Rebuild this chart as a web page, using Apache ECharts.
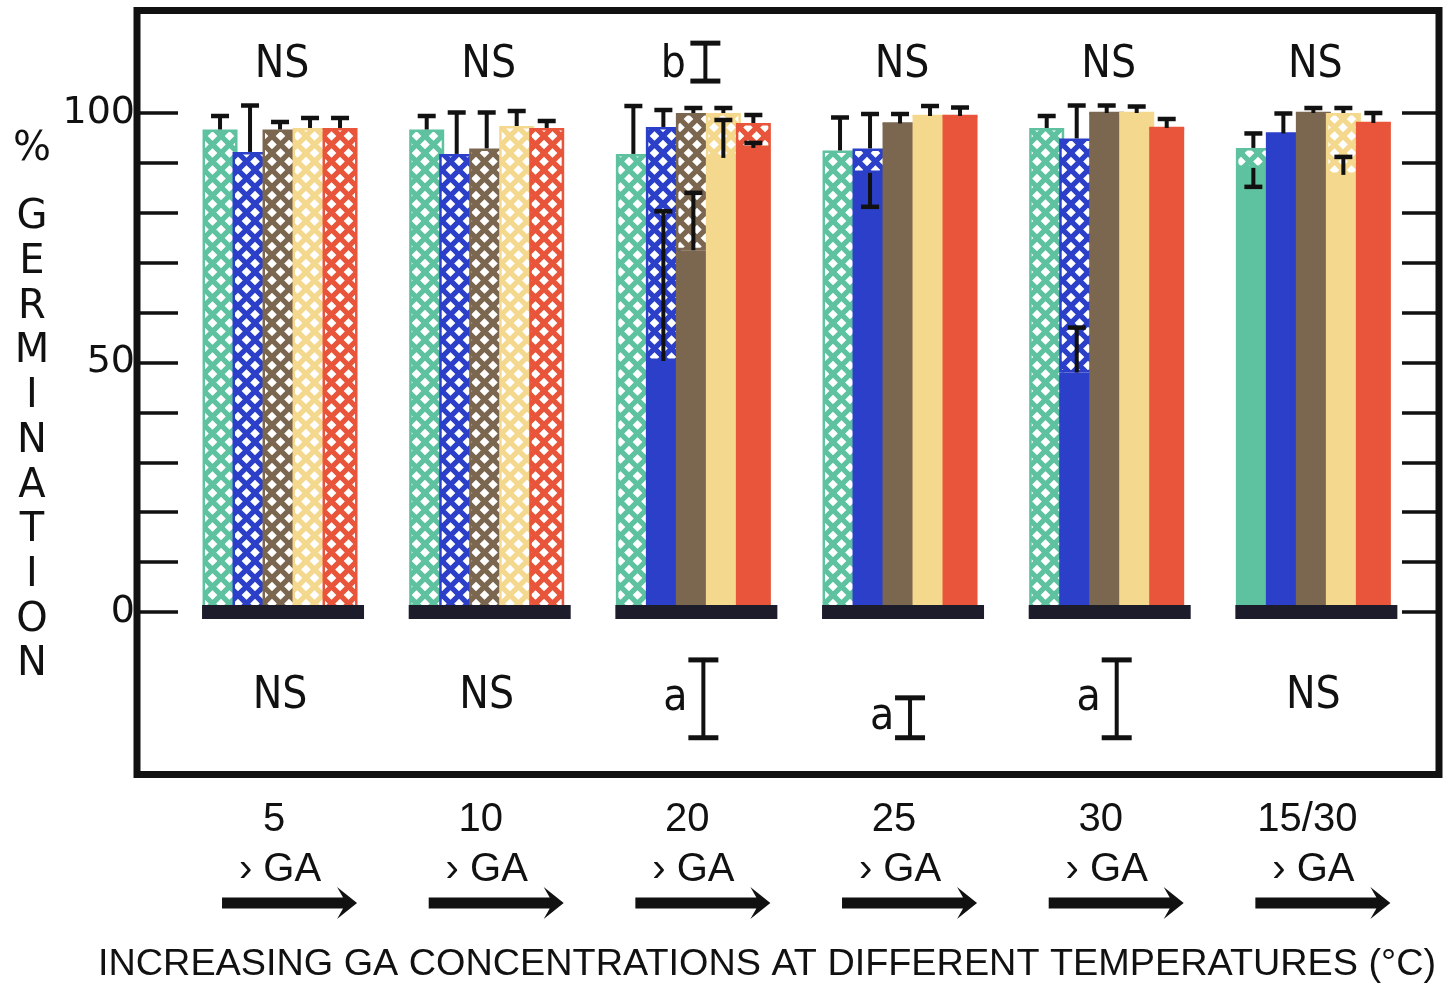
<!DOCTYPE html>
<html><head><meta charset="utf-8">
<script src="https://cdn.jsdelivr.net/npm/echarts@6/dist/echarts.min.js"></script>
<style>html,body{margin:0;padding:0;background:#fff}#c{width:1446px;height:994px}</style>
</head><body><div id="c"></div>
<script>
// ---- data ----
const categories = ['5', '10', '20', '25', '30', '15/30'];
const seriesNames = ['teal', 'blue', 'brown', 'yellow', 'red'];
// lower (solid, unhatched) part of each bar
const tealSolid   = [0, 0, 0, 0, 0, 89];
const blueSolid   = [0, 0, 50.3, 88, 48, 95.9];
const brownSolid  = [0, 0, 72.5, 97.9, 100, 100];
const yellowSolid = [0, 0, 91, 99.4, 100, 87.6];
const redSolid    = [0, 0, 93, 99.4, 97, 98];
// total height (top of hatched part)
const tealTotal   = [96.7, 96.7, 91.8, 92.5, 97, 93];
const blueTotal   = [92.2, 91.8, 97.2, 92.9, 94.9, 95.9];
const brownTotal  = [96.7, 92.9, 100, 97.9, 100, 100];
const yellowTotal = [97, 97.4, 100, 99.4, 100, 100];
const redTotal    = [97, 97, 98, 99.4, 97, 98];
// error bars on the top of each bar
const tealErr   = [2.7, 2.7, 9.6, 6.6, 2.4, 2.9];
const blueErr   = [9.3, 8.3, 3.4, 6.9, 6.6, 4];
const brownErr  = [1.5, 7.2, 1, 1.9, 1.5, 1];
const yellowErr = [2, 3, 1, 2, 1.3, 1];
const redErr    = [2, 1.4, 1.6, 1.7, 1.8, 2];
// error bars on the solid part (signed: + upward, - downward)
const tealInnerErr   = [null, null, null, null, null, -3.8];
const blueInnerErr   = [null, null, 30, -6.8, 9, null];
const brownInnerErr  = [null, null, 11.5, null, null, null];
const yellowInnerErr = [null, null, 7.6, null, null, 3.6];
const redInnerErr    = [null, null, 1, null, null, null];
// significance annotations
const topNotes    = ['NS', 'NS', 'b', 'NS', 'NS', 'NS'];
const topLsd      = [0, 0, 7.6, 0, 0, 0];
const bottomNotes = ['NS', 'NS', 'a', 'a', 'a', 'NS'];
const bottomLsd   = [0, 0, 15.6, 8, 15.6, 0];
const yTicks = [0, 50, 100];

// ---- build ----
const colors = ['#5ec2a1', '#2b3fc8', '#7b6650', '#f4d88e', '#e8553a'];
const solids = [tealSolid, blueSolid, brownSolid, yellowSolid, redSolid];
const totals = [tealTotal, blueTotal, brownTotal, yellowTotal, redTotal];
const errs = [tealErr, blueErr, brownErr, yellowErr, redErr];
const innerErrs = [tealInnerErr, blueInnerErr, brownInnerErr, yellowInnerErr, redInnerErr];

const BAR_W = 35, BAR_STEP = 30;
const FONT_N = "'Liberation Sans Narrow', 'DejaVu Sans Condensed', 'Liberation Sans', sans-serif";

function hatch(color) {
  const s = 17;
  const cv = document.createElement('canvas');
  cv.width = s; cv.height = s;
  const g = cv.getContext('2d');
  g.fillStyle = '#ffffff'; g.fillRect(0, 0, s, s);
  g.strokeStyle = color; g.lineWidth = 5.2;
  g.beginPath();
  for (const d of [-s, 0, s]) {
    g.moveTo(-3, -3 + d); g.lineTo(s + 3, s + 3 + d);
    g.moveTo(s + 3, -3 + d); g.lineTo(-3, s + 3 + d);
  }
  g.stroke();
  return { image: cv, repeat: 'repeat' };
}

const series = [];
for (let k = 0; k < 5; k++) {
  series.push({
    name: seriesNames[k] + ' solid', type: 'bar', stack: 's' + k,
    data: solids[k], barWidth: BAR_W, barGap: '-14.29%',
    itemStyle: { color: colors[k] }, z: 2
  });
  series.push({
    name: seriesNames[k] + ' hatched', type: 'bar', stack: 's' + k,
    data: totals[k].map((t, i) => +(t - solids[k][i]).toFixed(2)),
    barWidth: BAR_W, barGap: '-14.29%',
    itemStyle: { color: hatch(colors[k]), borderColor: colors[k], borderWidth: 2.5 }, z: 2
  });
}

// base bars under each group
series.push({
  type: 'custom', z: 4, clip: false, silent: true,
  data: categories.map((c, i) => [i, 0]),
  renderItem(params, api) {
    const p = api.coord([api.value(0), 0]);
    return { type: 'rect', shape: { x: p[0] - 78, y: p[1] - 7, width: 162, height: 14 },
      style: { fill: '#1d1c2b' } };
  }
});

// error bars
const errData = [];
for (let k = 0; k < 5; k++) {
  for (let i = 0; i < categories.length; i++) {
    errData.push([i, k, totals[k][i], errs[k][i]]);
    if (innerErrs[k][i] !== null) errData.push([i, k, solids[k][i], innerErrs[k][i]]);
  }
}
series.push({
  type: 'custom', z: 6, clip: false, silent: true, data: errData,
  renderItem(params, api) {
    const c = api.value(0), k = api.value(1), base = api.value(2), e = api.value(3);
    const x = api.coord([c, 0])[0] + (k - 2) * BAR_STEP;
    const y1 = api.coord([c, base])[1], y2 = api.coord([c, base + e])[1];
    return { type: 'group', children: [
      { type: 'line', shape: { x1: x, y1: y1, x2: x, y2: y2 }, style: { stroke: '#111', lineWidth: 4 } },
      { type: 'line', shape: { x1: x - 9, y1: y2, x2: x + 9, y2: y2 }, style: { stroke: '#111', lineWidth: 4.5 } }
    ] };
  }
});

// significance annotations
function ibeam(x, yTop, yBot) {
  return [
    { type: 'line', shape: { x1: x, y1: yTop, x2: x, y2: yBot }, style: { stroke: '#111', lineWidth: 4 } },
    { type: 'line', shape: { x1: x - 15, y1: yTop, x2: x + 15, y2: yTop }, style: { stroke: '#111', lineWidth: 5 } },
    { type: 'line', shape: { x1: x - 15, y1: yBot, x2: x + 15, y2: yBot }, style: { stroke: '#111', lineWidth: 5 } }
  ];
}
series.push({
  type: 'custom', z: 6, clip: false, silent: true,
  data: categories.map((c, i) => [i, topLsd[i], bottomLsd[i]]),
  renderItem(params, api) {
    const i = api.value(0);
    const cx = api.coord([i, 0])[0];
    const children = [];
    const tStyle = (t, x, y) => ({ type: 'text', x: x, y: y,
      style: { text: t, fill: '#111', fontSize: 44, fontFamily: FONT_N, align: 'center', verticalAlign: 'middle' } });
    const tl = topLsd[i];
    const yTopMid = api.coord([i, 110.2])[1];
    if (tl > 0) {
      const h = api.coord([i, 0])[1] - api.coord([i, tl])[1];
      children.push(tStyle(topNotes[i], cx - 20, yTopMid + 3));
      children.push(...ibeam(cx + 12, yTopMid - h / 2, yTopMid + h / 2));
    } else {
      children.push(tStyle(topNotes[i], cx + 2, yTopMid + 3));
    }
    const bl = bottomLsd[i];
    if (bl > 0) {
      const yb = api.coord([i, -25.2])[1], yt = api.coord([i, -25.2 + bl])[1];
      children.push(tStyle(bottomNotes[i], cx - 18, (yb + yt) / 2));
      children.push(...ibeam(cx + 10, yt, yb));
    } else {
      children.push(tStyle(bottomNotes[i], cx, api.coord([i, -17])[1]));
    }
    return { type: 'group', children };
  }
});

// GA arrows under each temperature
series.push({
  type: 'custom', z: 6, clip: false, silent: true,
  data: categories.map((c, i) => [i, -58.3]),
  renderItem(params, api) {
    const p = api.coord([api.value(0), api.value(1)]);
    const x0 = p[0] - 58, xe = p[0] + 77, y = p[1];
    return { type: 'polygon', shape: { points: [
      [x0, y - 5.5], [xe - 14, y - 5.5], [xe - 20, y - 16], [xe, y], [xe - 20, y + 16], [xe - 14, y + 5.5], [x0, y + 5.5]
    ] }, style: { fill: '#111' } };
  }
});

const tickStyle = { color: '#111', width: 3.5 };
const option = {
  animation: false,
  backgroundColor: '#ffffff',
  grid: { left: 176.7, right: 29.3, top: 113, bottom: 382 },
  xAxis: {
    type: 'category', data: categories,
    axisLine: { show: false }, axisTick: { show: false },
    axisLabel: {
      margin: 183, interval: 0,
      formatter: v => '{n|' + v + '}\n{g|› GA}',
      rich: {
        n: { fontSize: 40, fontFamily: "'Liberation Sans', sans-serif", lineHeight: 50, color: '#111', padding: [0, 12, 0, 0] },
        g: { fontSize: 40, fontFamily: "'Liberation Sans', sans-serif", lineHeight: 50, color: '#111' }
      }
    }
  },
  yAxis: [
    { type: 'value', min: 0, max: 100, interval: 10, position: 'left', offset: 36.7,
      axisLine: { show: false }, splitLine: { show: false },
      axisTick: { show: true, inside: true, length: 38, lineStyle: tickStyle },
      axisLabel: { margin: 5, color: '#111', fontSize: 38, fontFamily: "'DejaVu Sans', sans-serif",
        formatter: v => (yTicks.indexOf(v) >= 0 ? String(v) : '') } },
    { type: 'value', min: 0, max: 100, interval: 10, position: 'right', offset: 23.3,
      axisLine: { show: false }, splitLine: { show: false },
      axisTick: { show: true, inside: true, length: 38, lineStyle: tickStyle },
      axisLabel: { show: false } }
  ],
  graphic: [
    { type: 'rect', z: 10, silent: true, shape: { x: 137, y: 10.5, width: 1302, height: 764 },
      style: { fill: 'none', stroke: '#111', lineWidth: 7 } },
    { type: 'text', z: 10, x: 32, y: 150, style: { text: '%', fill: '#111', fontSize: 40,
      fontFamily: "'DejaVu Sans', sans-serif", align: 'center', verticalAlign: 'middle' } },
    { type: 'text', z: 10, x: 32, y: 195.6, style: { text: 'GERMINATION'.split('').join('\n'), fill: '#111',
      fontSize: 40, lineHeight: 44.7, fontFamily: "'DejaVu Sans', sans-serif", align: 'center', verticalAlign: 'top' } },
    { type: 'text', z: 10, x: 98, y: 965, style: { text: 'INCREASING GA CONCENTRATIONS AT DIFFERENT TEMPERATURES (°C)',
      fill: '#111', fontSize: 37.8, fontFamily: "'Liberation Sans', sans-serif", align: 'left', verticalAlign: 'middle' } }
  ],
  series: series
};
const chart = echarts.init(document.getElementById('c'), null, { renderer: 'canvas' });
chart.setOption(option);
</script>
</body></html>
